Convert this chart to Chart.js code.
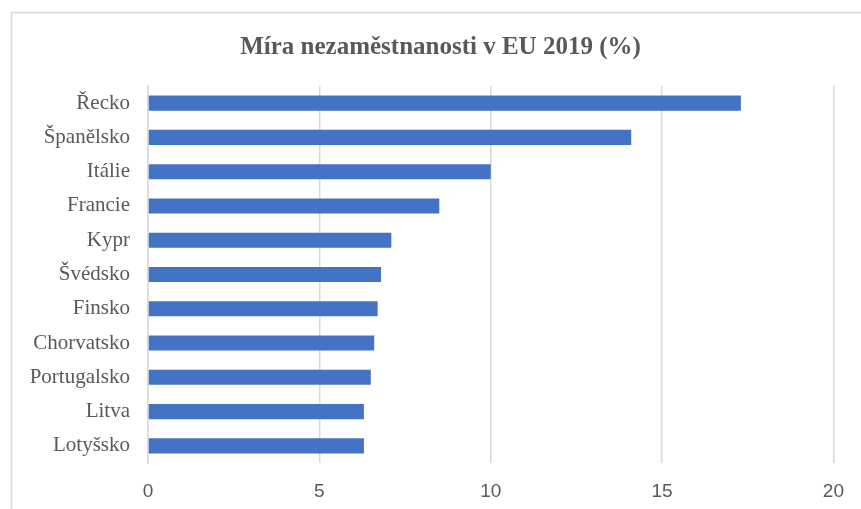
<!DOCTYPE html>
<html>
<head>
<meta charset="utf-8">
<script src="https://cdn.jsdelivr.net/npm/chart.js@4/dist/chart.umd.min.js"></script>
<style>
  html, body { margin: 0; padding: 0; background: #ffffff; }
  #wrap { position: relative; width: 861px; height: 509px; }
  canvas { display: block; }
</style>
</head>
<body>
<div id="wrap"><canvas id="c" width="861" height="509"></canvas></div>
<script>
const categories = ["Řecko", "Španělsko", "Itálie", "Francie", "Kypr", "Švédsko", "Finsko", "Chorvatsko", "Portugalsko", "Litva", "Lotyšsko"];
const unemployment = [17.3, 14.1, 10.0, 8.5, 7.1, 6.8, 6.7, 6.6, 6.5, 6.3, 6.3];
const xTicks = [0, 5, 10, 15, 20];
const chartTitle = "Míra nezaměstnanosti v EU 2019 (%)";

const frame = {
  id: 'frame',
  afterLayout(chart) {
    const t = chart.titleBlock;
    if (t) { t.left += 23; t.right += 23; }
  },
  beforeDraw(chart) {
    const ctx = chart.ctx;
    ctx.save();
    ctx.fillStyle = '#ffffff';
    ctx.fillRect(0, 0, chart.width, chart.height);
    ctx.strokeStyle = '#d9d9d9';
    ctx.lineWidth = 1.5;
    ctx.beginPath();
    ctx.moveTo(11.5, chart.height + 2);
    ctx.lineTo(11.5, 12.5);
    ctx.lineTo(chart.width + 2, 12.5);
    ctx.stroke();
    ctx.restore();
  }
};

new Chart(document.getElementById('c'), {
  type: 'bar',
  data: {
    labels: categories,
    datasets: [{
      data: unemployment,
      backgroundColor: '#4472C4',
      borderWidth: 0,
      categoryPercentage: 1,
      barPercentage: 0.44
    }]
  },
  plugins: [frame],
  options: {
    indexAxis: 'y',
    responsive: false,
    animation: false,
    devicePixelRatio: 1,
    layout: { padding: { left: 0, right: 26, top: 0, bottom: 0 } },
    plugins: {
      legend: { display: false },
      tooltip: { enabled: false },
      title: {
        display: true,
        text: chartTitle,
        color: '#595959',
        font: { family: '"Liberation Serif", "Times New Roman", serif', size: 25, weight: 'bold', lineHeight: 1.2 },
        padding: { top: 33, bottom: 23 }
      }
    },
    scales: {
      x: {
        min: 0,
        max: 20,
        afterBuildTicks(scale) { scale.ticks = xTicks.map(v => ({ value: v })); },
        afterFit(scale) { scale.height = 46; },
        grid: { color: '#d9d9d9', lineWidth: 1.5, drawTicks: false },
        border: { display: false },
        ticks: {
          color: '#595959',
          padding: 17,
          font: { family: '"Liberation Sans", Arial, sans-serif', size: 19 }
        }
      },
      y: {
        afterFit(scale) { scale.width = 148; },
        grid: { display: false, drawTicks: false },
        border: { display: true, color: '#d9d9d9', width: 1.5 },
        ticks: {
          color: '#595959',
          padding: 18,
          font: { family: '"Liberation Serif", "Times New Roman", serif', size: 21 }
        }
      }
    }
  }
});
</script>
</body>
</html>
